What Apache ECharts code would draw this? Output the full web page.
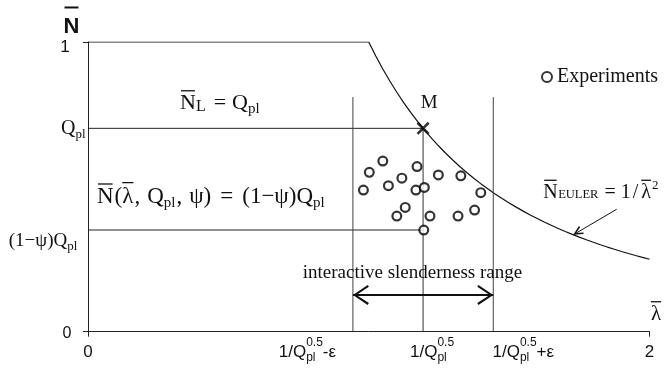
<!DOCTYPE html>
<html>
<head>
<meta charset="utf-8">
<script src="https://cdn.jsdelivr.net/npm/echarts@6/dist/echarts.min.js"></script>
<style>
  html, body { margin: 0; padding: 0; background: #fff; }
  #chart { width: 670px; height: 377px; }
</style>
</head>
<body>
<div id="chart"></div>
<script>
// ---- Model parameters -------------------------------------------------
const Q_PL = 0.702;                 // plastic resistance ratio
const PSI = 0.5;                    // interaction reduction factor
const EPS = 0.25;                   // half width of the interactive range
const LAMBDA_M = 1 / Math.sqrt(Q_PL);
const RANGE_TOP = 0.81;             // height of the range limit lines
const ARROW_N = 0.127;              // level of the range arrow

// ---- Experimental results (slenderness, normalised load) ---------------
const expLambda = [1.050, 1.002, 0.981, 1.070, 1.118, 1.172, 1.168, 1.198, 1.248,
                   1.328, 1.399, 1.130, 1.100, 1.218, 1.318, 1.377, 1.196];
const expN      = [0.589, 0.550, 0.489, 0.504, 0.530, 0.570, 0.489, 0.498, 0.541,
                   0.538, 0.480, 0.429, 0.399, 0.399, 0.399, 0.420, 0.351];

// ---- Euler hyperbola N = 1 / lambda^2, sampled on [1, 2] -----------------
const eulerLambda = [];
for (let i = 0; i <= 40; i++) eulerLambda.push(1 + i * 0.025);
const eulerN = eulerLambda.map(l => 1 / (l * l));

// Pointer from the Euler label to the curve
const pointerTail = [1.883, 0.4225];
const pointerTipLambda = 1.7286;

const SERIF = '"Liberation Serif", "Times New Roman", serif';
const SANS = '"Liberation Sans", Arial, sans-serif';
const INK = '#111';
const LINE = '#222';

const chart = echarts.init(document.getElementById('chart'), null, { renderer: 'canvas' });

const chevron = 'path://M10,0 L20,15 L18.2,16.2 L10,3.6 L1.8,16.2 L0,15 Z';
const smallChevron = 'path://M10,0 L20,14 L17,15.6 L10,5 L3,15.6 L0,14 Z';

function segment(name, pts, width, color) {
  return {
    name, type: 'line', data: pts, showSymbol: false, symbol: 'none',
    silent: true, z: 3,
    lineStyle: { color: color || LINE, width: width || 1 }
  };
}

const resistance = [[0, 1]].concat(eulerLambda.map((l, i) => [l, eulerN[i]]));
const rQ = (1 - PSI) * Q_PL;

chart.setOption({
  animation: false,
  backgroundColor: '#fff',
  grid: { left: 88, right: 20.5, top: 42, bottom: 45.3 },
  xAxis: {
    type: 'value', min: 0, max: 2, interval: 2,
    axisLine: { show: true, lineStyle: { color: LINE, width: 1 } },
    axisTick: { show: true, length: 5, lineStyle: { color: LINE } },
    axisLabel: { show: false },
    splitLine: { show: false }
  },
  yAxis: {
    type: 'value', min: 0, max: 1, interval: 1,
    axisLine: { show: true, lineStyle: { color: LINE, width: 1 } },
    axisTick: { show: true, length: 5, lineStyle: { color: LINE } },
    axisLabel: { show: false },
    splitLine: { show: false }
  },
  legend: {
    data: [{ name: 'Experiments', icon: 'circle' }],
    left: 536, top: 62,
    itemWidth: 10, itemHeight: 10,
    selectedMode: false,
    textStyle: { fontFamily: SERIF, fontSize: 20, color: INK }
  },
  series: [
    segment('resistance', resistance, 1.2, '#111'),
    segment('plastic', [[0, Q_PL], [LAMBDA_M, Q_PL]]),
    segment('reduced', [[0, rQ], [LAMBDA_M, rQ]]),
    segment('mid', [[LAMBDA_M, 0], [LAMBDA_M, Q_PL]], 1, '#333'),
    segment('lower limit', [[LAMBDA_M - EPS, 0], [LAMBDA_M - EPS, RANGE_TOP]], 1, '#444'),
    segment('upper limit', [[LAMBDA_M + EPS, 0], [LAMBDA_M + EPS, RANGE_TOP]], 1, '#444'),
    {
      name: 'Experiments', type: 'scatter', z: 5,
      data: expLambda.map((l, i) => [l, expN[i]]),
      symbol: 'circle', symbolSize: 8.8,
      itemStyle: { color: '#fff', borderColor: '#000', borderWidth: 2.2 }
    },
    {
      name: 'M', type: 'scatter', z: 6,
      data: [[LAMBDA_M, Q_PL]],
      symbol: 'path://M2,0 L7,5 L12,0 L14,2 L9,7 L14,12 L12,14 L7,9 L2,14 L0,12 L5,7 L0,2 Z',
      symbolSize: 13,
      itemStyle: { color: '#000' }
    },
    {
      name: 'range arrow', type: 'line', data: [], silent: true,
      markLine: {
        silent: true, animation: false,
        symbol: [chevron, chevron],
        symbolSize: [20, 16],
        symbolOffset: [[0, 8], [0, 8]],
        label: { show: false },
        lineStyle: { color: '#111', width: 1.8, type: 'solid' },
        emphasis: { disabled: true },
        data: [[{ coord: [LAMBDA_M - EPS, ARROW_N] }, { coord: [LAMBDA_M + EPS, ARROW_N] }]]
      }
    },
    {
      name: 'euler pointer', type: 'line', data: [], silent: true,
      markLine: {
        silent: true, animation: false,
        symbol: ['none', smallChevron],
        symbolSize: [9, 10],
        symbolOffset: [[0, 0], [0, 5]],
        label: { show: false },
        lineStyle: { color: '#111', width: 1, type: 'solid' },
        emphasis: { disabled: true },
        data: [[{ coord: pointerTail },
                { coord: [pointerTipLambda, 1 / (pointerTipLambda * pointerTipLambda)] }]]
      }
    }
  ]
});

// ---- Text with sub/superscripts and overbars --------------------------
const mctx = document.createElement('canvas').getContext('2d');
function fontOf(p) { return (p.w || 'normal') + ' ' + p.s + 'px ' + (p.f || SERIF); }
function midToBase(f) {
  mctx.font = f;
  mctx.textBaseline = 'middle';
  const d = mctx.measureText('H').actualBoundingBoxDescent;
  mctx.textBaseline = 'alphabetic';
  return isFinite(d) ? d : 0;
}
function formula(parts, x, baseline, align) {
  let cur = 0, lastStart = 0;
  const placed = [];
  parts.forEach(p => {
    const f = fontOf(p);
    mctx.font = f;
    const w = mctx.measureText(p.t).width;
    let x0;
    if (p.stack) { x0 = lastStart; cur = Math.max(cur, x0 + w); }
    else { x0 = cur + (p.dx || 0); lastStart = x0; cur = x0 + w; }
    placed.push({ p, f, x0, w });
  });
  const shift = align === 'center' ? -cur / 2 : align === 'right' ? -cur : 0;
  const els = [];
  placed.forEach(({ p, f, x0, w }) => {
    const bx = x + shift + x0;
    const by = baseline + (p.dy || 0);
    els.push({
      type: 'text', silent: true, z: 10,
      x: bx, y: by - midToBase(f),
      style: { text: p.t, font: f, fill: INK, align: 'left', verticalAlign: 'middle' }
    });
    if (p.bar) {
      const inset = p.inset != null ? p.inset : 1;
      const yb = by - p.bar * p.s;
      els.push({
        type: 'line', silent: true, z: 10,
        shape: { x1: bx + inset, y1: yb, x2: bx + w - inset, y2: yb },
        style: { stroke: INK, lineWidth: p.barW || 1.3 }
      });
    }
  });
  return els;
}

const P = (x, y) => chart.convertToPixel({ gridIndex: 0 }, [x, y]);
const aTop = P(0, 1), a0 = P(0, 0), aQ = P(0, Q_PL), aR = P(0, rQ);
const aM = P(LAMBDA_M, Q_PL), aEnd = P(2, 0), aCurveEnd = P(2, 0.25);
const aArrow = P(LAMBDA_M, ARROW_N);
const t1 = P(LAMBDA_M - EPS, 0), t2 = P(LAMBDA_M, 0), t3 = P(LAMBDA_M + EPS, 0);

const tick = (tail) => {
  const parts = [
    { t: '1/Q', s: 17, f: SANS },
    { t: 'pl', s: 12, f: SANS, dy: 4.5 },
    { t: '0.5', s: 12, f: SANS, dy: -10.5, stack: true }
  ];
  if (tail) parts.push({ t: tail, s: 17, f: SANS });
  return parts;
};

let g = [];
// axis titles
g = g.concat(formula([{ t: 'N', s: 22, f: SANS, w: 'bold', bar: 1.16, barW: 2 }], aTop[0] - 16.5, aTop[1] - 9, 'center'));
g = g.concat(formula([{ t: 'λ', s: 21, f: SERIF, bar: 0.87, inset: 0 }], aEnd[0] + 6.5, aEnd[1] - 11.7, 'center'));
// y labels
g = g.concat(formula([{ t: '1', s: 17, f: SANS }], aTop[0] - 23, aTop[1] + 10, 'center'));
g = g.concat(formula([{ t: '0', s: 16, f: SANS }], a0[0] - 21, a0[1] + 6.6, 'center'));
g = g.concat(formula([{ t: 'Q', s: 20 }, { t: 'pl', s: 13, dy: 4 }], aQ[0] - 27, aQ[1] + 6, 'left'));
g = g.concat(formula([{ t: '(1−ψ)Q', s: 19 }, { t: 'pl', s: 13, dy: 4 }], aR[0] - 10.7, aR[1] + 15.5, 'right'));
// x labels
g = g.concat(formula([{ t: '0', s: 17, f: SANS }], a0[0], a0[1] + 25, 'center'));
g = g.concat(formula([{ t: '2', s: 17, f: SANS }], aEnd[0], aEnd[1] + 25, 'center'));
g = g.concat(formula(tick('-ε'), t1[0] - 45.5, t1[1] + 25, 'center'));
g = g.concat(formula(tick(null), t2[0] + 9, t2[1] + 25, 'center'));
g = g.concat(formula(tick('+ε'), t3[0] + 30, t3[1] + 25, 'center'));
// equations
g = g.concat(formula([
  { t: 'N', s: 22, bar: 0.83 },
  { t: 'L', s: 16, dy: 2 },
  { t: '=', s: 22, dx: 8 },
  { t: 'Q', s: 22, dx: 6 },
  { t: 'pl', s: 15, dy: 4 }
], aQ[0] + 92, aQ[1] - 19.3, 'left'));
g = g.concat(formula([
  { t: 'N', s: 23, bar: 0.84 },
  { t: '(', s: 23, dx: 1 },
  { t: 'λ', s: 23, bar: 0.9, inset: 0 },
  { t: ',', s: 23, dx: 1 },
  { t: 'Q', s: 23, dx: 7 },
  { t: 'pl', s: 15, dy: 4 },
  { t: ',', s: 23, dx: 1 },
  { t: 'ψ)', s: 23, dx: 7 },
  { t: '=', s: 23, dx: 9 },
  { t: '(1−ψ)Q', s: 23, dx: 9 },
  { t: 'pl', s: 15, dy: 4 }
], aR[0] + 9, aR[1] - 26.7, 'left'));
g = g.concat(formula([{ t: 'M', s: 19 }], aM[0] + 6, aM[1] - 20.6, 'center'));
g = g.concat(formula([
  { t: 'N', s: 20, bar: 0.9 },
  { t: 'EULER', s: 12.5, dx: 0.5 },
  { t: '=', s: 20, dx: 6 },
  { t: '1', s: 20, dx: 5 },
  { t: '/', s: 20, dx: 2 },
  { t: 'λ', s: 20, dx: 3, bar: 0.9, inset: 0 },
  { t: '2', s: 13, dx: 1, dy: -9 }
], aCurveEnd[0] - 106.3, aCurveEnd[1] - 61, 'left'));
g = g.concat(formula([{ t: 'interactive slenderness range', s: 19 }], aArrow[0] - 10.6, aArrow[1] - 16.7, 'center'));

chart.setOption({ graphic: { elements: g } });
</script>
</body>
</html>
